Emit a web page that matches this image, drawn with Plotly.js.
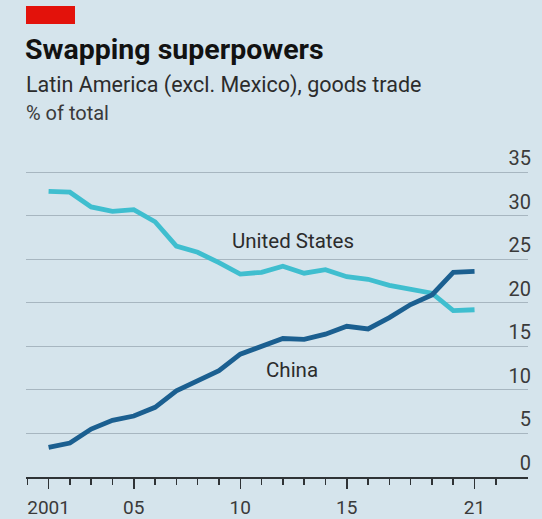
<!DOCTYPE html>
<html>
<head>
<meta charset="utf-8">
<script src="https://cdn.plot.ly/plotly-3.0.1.min.js"></script>
<style>
  html, body { margin: 0; padding: 0; background: #d5e4ec; }
  #chart { width: 542px; height: 519px; }
</style>
</head>
<body>
<div id="chart"></div>
<script>
const years = [2001, 2002, 2003, 2004, 2005, 2006, 2007, 2008, 2009, 2010, 2011,
               2012, 2013, 2014, 2015, 2016, 2017, 2018, 2019, 2020, 2021];
const unitedStates = [32.8, 32.7, 31.0, 30.5, 30.7, 29.3, 26.5, 25.8, 24.6, 23.3, 23.5,
                      24.2, 23.4, 23.8, 23.0, 22.7, 22.0, 21.6, 21.1, 19.1, 19.2];
const china = [3.4, 3.9, 5.5, 6.5, 7.0, 8.0, 9.9, 11.1, 12.2, 14.1, 15.0,
               15.9, 15.8, 16.4, 17.3, 17.0, 18.3, 19.8, 20.9, 23.5, 23.6];
const xTickVals = [2001, 2005, 2010, 2015, 2021];
const xTickText = ['2001', '05', '10', '15', '21'];
const yTickVals = [0, 5, 10, 15, 20, 25, 30, 35];
const seriesNames = ['United States', 'China'];

const W = 542, H = 519;
const YMAX = 38;
const pxPerUnit = (477.3 - 172.3) / 35;
const L = 26, XR = 528, R = 534, B = 477.3, T = B - YMAX * pxPerUnit;
const px2x = p => (p - L) / (R - L);
const py2y = p => (B - p) / (B - T);
const font = 'Roboto, "Noto Sans", sans-serif';

const traces = [
  { x: years, y: unitedStates, name: seriesNames[0], type: 'scatter', mode: 'lines',
    line: { color: '#3fbecf', width: 4.8 }, hoverinfo: 'x+y' },
  { x: years, y: china, name: seriesNames[1], type: 'scatter', mode: 'lines',
    line: { color: '#1b5f90', width: 4.8 }, hoverinfo: 'x+y' }
];

const layout = {
  width: W, height: H,
  paper_bgcolor: '#d5e4ec', plot_bgcolor: '#d5e4ec',
  margin: { l: L, r: W - R, t: T, b: H - B },
  showlegend: false,
  font: { family: font, color: '#333' },
  title: {
    text: '<b>Swapping superpowers</b>',
    x: 25 / W, xanchor: 'left', xref: 'container',
    y: 1 - 49 / H, yanchor: 'middle', yref: 'container',
    font: { family: font, size: 28.5, color: '#121212' }
  },
  xaxis: {
    domain: [0, (XR - L) / (R - L)],
    range: [1999.94, 2023.51],
    tickvals: xTickVals, ticktext: xTickText,
    ticks: 'outside', ticklen: 10, tickwidth: 1.5, tickcolor: '#2f3336',
    showline: true, linecolor: '#2f3336', linewidth: 1.5,
    showgrid: false, zeroline: false,
    ticklabelstandoff: 3,
    tickfont: { family: font, size: 19, color: '#3a3a3a' },
    minor: { dtick: 1, tick0: 2001, ticks: 'outside', ticklen: 6, tickwidth: 1.5,
             tickcolor: '#2f3336', showgrid: false },
    fixedrange: true
  },
  yaxis: {
    range: [0, YMAX], side: 'right', anchor: 'free', position: 1,
    tickvals: yTickVals,
    ticks: '', showline: false, zeroline: false,
    showgrid: true, gridcolor: '#a7b6c0', gridwidth: 1,
    ticklabelposition: 'inside top',
    tickfont: { family: font, size: 20, color: '#3a3a3a' },
    fixedrange: true
  },
  shapes: [
    { type: 'rect', xref: 'paper', yref: 'paper',
      x0: px2x(26), x1: px2x(75), y0: py2y(24), y1: py2y(6),
      fillcolor: '#e3120b', line: { width: 0 } }
  ],
  annotations: [
    { text: 'Latin America (excl. Mexico), goods trade', xref: 'paper', yref: 'paper',
      x: px2x(24), y: py2y(85), xanchor: 'left', yanchor: 'middle', showarrow: false,
      font: { family: font, size: 21.5, color: '#2c2c2c' } },
    { text: '% of total', xref: 'paper', yref: 'paper',
      x: px2x(24), y: py2y(113), xanchor: 'left', yanchor: 'middle', showarrow: false,
      font: { family: font, size: 20, color: '#3a3a3a' } },
    { text: seriesNames[0], xref: 'x', yref: 'y', x: 2012.48, y: 27.1,
      xanchor: 'center', yanchor: 'middle', showarrow: false,
      font: { family: font, size: 20.5, color: '#2c2c2c' } },
    { text: seriesNames[1], xref: 'x', yref: 'y', x: 2012.44, y: 12.3,
      xanchor: 'center', yanchor: 'middle', showarrow: false,
      font: { family: font, size: 20.5, color: '#2c2c2c' } }
  ]
};

Plotly.newPlot('chart', traces, layout, { displayModeBar: false, staticPlot: true });
</script>
</body>
</html>
